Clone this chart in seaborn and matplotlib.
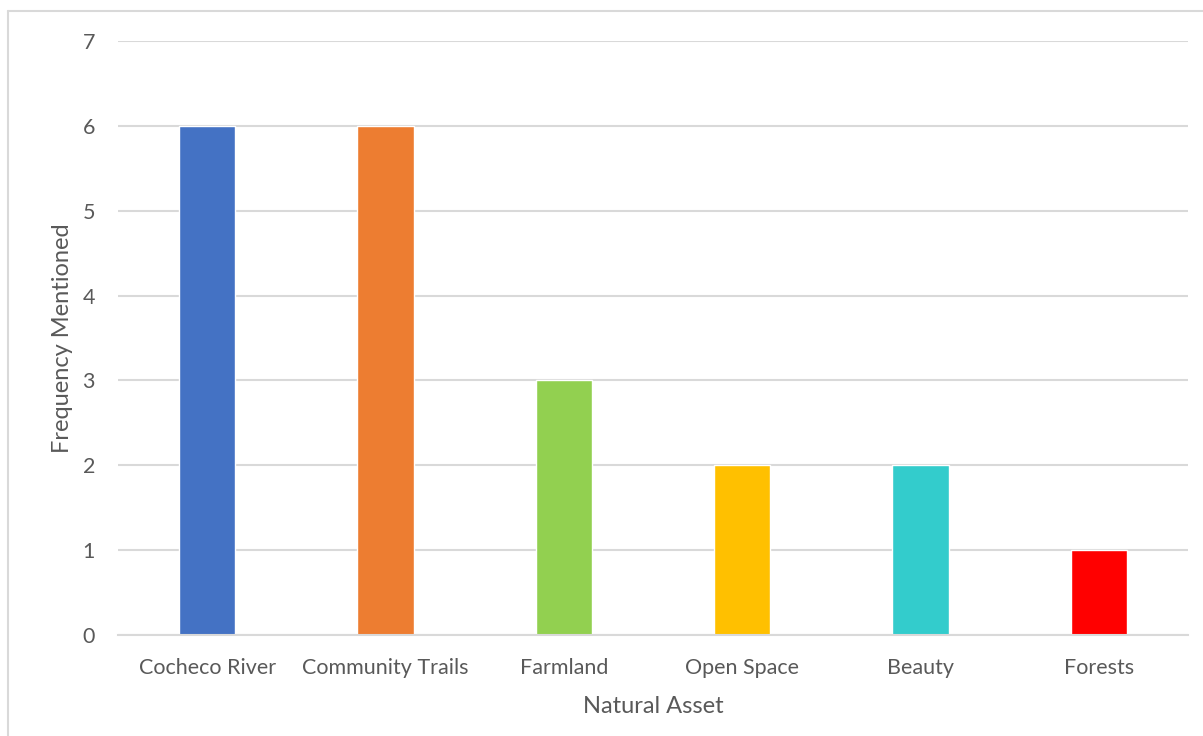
import matplotlib
matplotlib.use("Agg")
import matplotlib.pyplot as plt
import seaborn as sns
import pandas as pd
from matplotlib.lines import Line2D

categories = ["Cocheco River", "Community Trails", "Farmland", "Open Space", "Beauty", "Forests"]
values = [6, 6, 3, 2, 2, 1]
colors = ["#4472C4", "#ED7D31", "#92D050", "#FFC000", "#33CCCC", "#FF0000"]
yticks = [0, 1, 2, 3, 4, 5, 6, 7]

sns.set_theme(style="white")
plt.rcParams['font.family'] = ['Lato', 'DejaVu Sans']

df = pd.DataFrame({"Natural Asset": categories, "Frequency Mentioned": values})

W, H = 1203, 736
fig = plt.figure(figsize=(W / 100, H / 100), dpi=100)
ax = fig.add_axes([118 / W, 1 - 635 / H, (1188 - 118) / W, (635 - 41) / H])

sns.barplot(data=df, x="Natural Asset", y="Frequency Mentioned", hue="Natural Asset",
            palette=colors, width=0.315, ax=ax, legend=False, saturation=1)

ax.set_ylim(0, 7)
ax.set_xlim(-0.5, len(categories) - 0.5)
ax.set_yticks(yticks)
ax.yaxis.grid(True, color="#D9D9D9", linewidth=1.5)
ax.set_axisbelow(True)
for s in ["top", "right", "left"]:
    ax.spines[s].set_visible(False)
ax.spines["bottom"].set_color("#D9D9D9")
ax.spines["bottom"].set_linewidth(1.5)
ax.tick_params(axis="both", length=0, labelsize=15.5, labelcolor="#595959")
ax.tick_params(axis="y", pad=16.5)
ax.tick_params(axis="x", pad=16.5)
ax.set_xlabel("Natural Asset", fontsize=17, color="#595959", labelpad=13)
ax.set_ylabel("Frequency Mentioned", fontsize=17, color="#595959", labelpad=7)

# chart border
fig.add_artist(Line2D([8 / W, 8 / W], [0, 1 - 11 / H], transform=fig.transFigure, color="#D9D9D9", lw=1.5))
fig.add_artist(Line2D([8 / W, 1], [1 - 11 / H, 1 - 11 / H], transform=fig.transFigure, color="#D9D9D9", lw=1.5))

fig.savefig("out.png", dpi=100)
